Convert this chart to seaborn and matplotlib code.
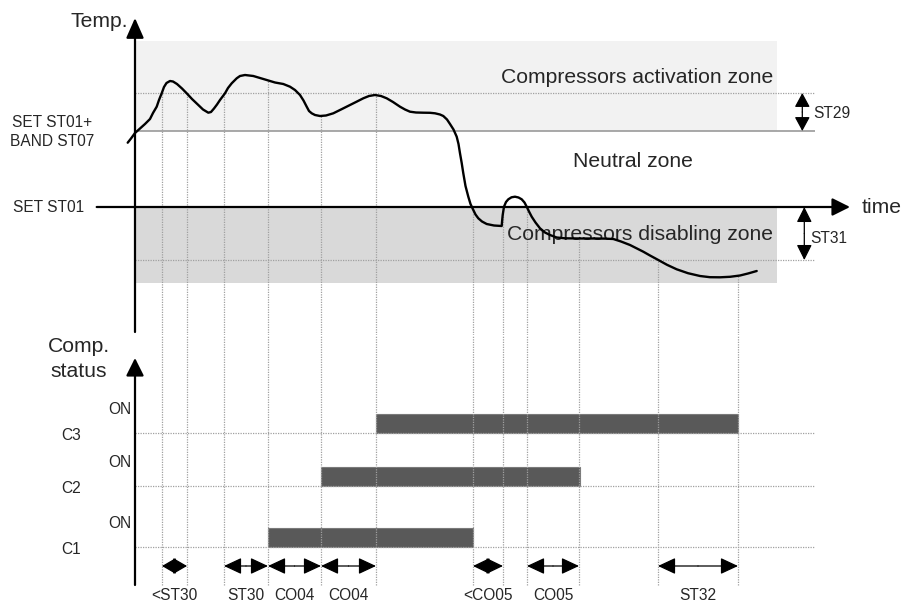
import numpy as np
import pandas as pd
import matplotlib
matplotlib.use("Agg")
import matplotlib.pyplot as plt
import seaborn as sns

# ---- temperature trace (time ticks, temperature relative to SET ST01) ----
temp_time = [-7.3, -4, 0, 5, 10, 15, 18, 21.7, 24, 26.7,
             29, 31.5, 35, 38, 42, 47, 51.7, 57, 63.3, 68,
             73.3, 76, 79, 82, 85, 90, 93, 96.7, 101.7, 105,
             110, 118.3, 125, 131.7, 140, 148.3, 155, 160, 165, 168.5,
             171.7, 174, 176.7, 180, 185, 191, 198.3, 207, 215, 222,
             228.3, 234, 240, 246, 251.7, 258, 265, 270, 275, 281,
             288.3, 295, 300, 305, 308.3, 312, 315, 318.5, 321.7, 323.5,
             325, 326.7, 328.3, 330.5, 333.3, 335.5, 338.3, 340.5, 343.3, 347,
             351.7, 359, 366.7, 367.2, 367.7, 369, 371, 373.3, 376.5, 380,
             383.5, 386.7, 389.5, 391.7, 394, 396.7, 400.5, 405, 410, 415,
             421.7, 430, 445, 460, 470, 478.3, 486, 495, 508.3, 515,
             523.3, 532, 541.7, 553, 565, 575, 585, 595, 605, 613,
             621.7]
temp_value = [64.3, 68.5, 74, 78.5, 83, 88, 94, 100.3, 107, 113.7,
              120, 124, 126, 125.5, 123, 118.5, 113.7, 108, 102, 97.5,
              94.3, 95, 98.5, 102.5, 107, 113.7, 119, 123.7, 128.7, 131,
              132, 131, 129, 127, 124.5, 123, 120.3, 117, 112, 106.5,
              100.3, 96, 93.7, 92, 91, 91.5, 93.7, 98, 102, 105.5,
              108.7, 111, 112, 111, 108.7, 105, 100.3, 97.5, 95.3, 94.5,
              94.3, 94.2, 93.7, 92.5, 91, 87.5, 83, 77.5, 70.3, 63,
              53.7, 44, 33.7, 21, 10.3, 3, -3, -7.5, -11.3, -14.5,
              -17, -18.5, -19, -13, -8, 0.3, 5, 7.7, 9.7, 10.3,
              9.5, 7.7, 4.5, 0.3, -4.5, -9.7, -15.5, -21.3, -25.5, -28,
              -30.5, -31.3, -31.5, -31.5, -31.6, -32, -34.5, -38, -44.7, -48.5,
              -53, -57.8, -62.3, -66.2, -69, -70.2, -70.3, -69.8, -68.5, -66.5,
              -64]

# thresholds
set_st01 = 0.0
band_st07 = 76.0
st29 = 38.0
st31 = 53.0

# ---- compressor status ----
compressors = ["C1", "C2", "C3"]
row_level = [59, 120, 173]
on_start = [133, 186, 241]
on_end = [338, 444.5, 603]

# ---- timing events and the intervals between them ----
event_times = [27, 52, 89, 133, 186, 241, 338, 368, 392, 444, 523, 603]
interval_labels = ["<ST30", "ST30", "CO04", "CO04", "<CO05", "CO05", "ST32"]
interval_start = [27, 89, 133, 186, 338, 392, 523]
interval_end = [52, 133, 186, 241, 368, 444, 603]

sns.set_style("white")
plt.rcParams["font.family"] = ["Liberation Sans", "DejaVu Sans"]

fig = plt.figure(figsize=(9.05, 6.06), dpi=100)
ax_t = fig.add_axes([0, 271 / 606, 1, 335 / 606])
ax_s = fig.add_axes([0, 0, 1, 271 / 606])
for ax in (ax_t, ax_s):
    ax.set_xlim(-135, 770)
    ax.axis("off")
ax_t.set_ylim(-128, 207)
ax_s.set_ylim(0, 271)

BIG = 15.2
SMALL = 11.2
dot = dict(color="#a0a0a0", lw=0.9, ls=(0, (1, 1)))
PT = 0.72  # points per pixel at 100 dpi


def arrow(ax, tip, tail, hl=15, hw=7.5, lw=1.6, color="black"):
    """Filled arrowhead at `tip`; hl/hw are head length and half-width in pixels."""
    ax.annotate("", xy=tip, xytext=tail,
                arrowprops=dict(arrowstyle=f"-|>,head_length={hl * PT},head_width={hw * PT}",
                                mutation_scale=1, lw=lw, color=color,
                                shrinkA=0, shrinkB=0), annotation_clip=False)


def dim_arrow(ax, a, b, hl=15, hw=7.0):
    """Double-headed dimension arrow between points a and b."""
    a = np.asarray(a, float)
    b = np.asarray(b, float)
    length = np.hypot(*(b - a))
    mid = (a + b) / 2
    head = min(hl, length / 2 - 0.5)
    arrow(ax, tuple(a), tuple(mid), head, hw, lw=0.9)
    arrow(ax, tuple(b), tuple(mid), head, hw, lw=0.9)


# ---- temperature panel ----
zone_right = 642
ax_t.fill_between([0, zone_right], band_st07, 166, color="#f2f2f2", lw=0, zorder=0)
ax_t.fill_between([0, zone_right], -76, set_st01, color="#d9d9d9", lw=0, zorder=0)

ax_t.hlines(band_st07 + st29, 0, 680, zorder=1, **dot)
ax_t.hlines(set_st01 - st31, 0, 680, zorder=1, **dot)
ax_t.hlines(band_st07, 0, 680, color="#9a9a9a", lw=1.2, zorder=1)

event_temp = np.interp(event_times, temp_time, temp_value)
ax_t.vlines(event_times, -128, event_temp, zorder=1, **dot)

# axes with arrowheads
arrow(ax_t, (0, 189), (0, -125), hl=17, hw=7.5)
arrow(ax_t, (715, set_st01), (-38.3, set_st01))

sns.lineplot(x=temp_time, y=temp_value, sort=False, ax=ax_t, color="black",
             lw=1.7, zorder=5, legend=False, solid_joinstyle="round",
             solid_capstyle="round")

# threshold dimension arrows
dim_arrow(ax_t, (667.3, band_st07 + st29), (667.3, band_st07), hl=12, hw=6.5)
dim_arrow(ax_t, (669.3, set_st01), (669.3, set_st01 - st31), hl=13, hw=6.5)

ax_t.text(-7, 180.3, "Temp.", ha="right", va="baseline", fontsize=BIG)
ax_t.text(726.7, -6, "time", ha="left", va="baseline", fontsize=BIG)
ax_t.text(638, 124, "Compressors activation zone", ha="right", va="baseline",
          fontsize=BIG, zorder=3)
ax_t.text(498, 40, "Neutral zone", ha="center", va="baseline", fontsize=BIG)
ax_t.text(638, -33, "Compressors disabling zone", ha="right", va="baseline",
          fontsize=BIG, zorder=3)
ax_t.text(678.3, 89, "ST29", ha="left", va="baseline", fontsize=SMALL)
ax_t.text(675, -36, "ST31", ha="left", va="baseline", fontsize=SMALL)
ax_t.text(-82.5, 80, "SET ST01+", ha="center", va="baseline", fontsize=SMALL)
ax_t.text(-82.5, 61.3, "BAND ST07", ha="center", va="baseline", fontsize=SMALL)
ax_t.text(-122.3, -4.7, "SET ST01", ha="left", va="baseline", fontsize=SMALL)

# ---- compressor status panel ----
ax_s.vlines(event_times, 21, 271, zorder=3, **dot)
ax_s.hlines(row_level, 0, 679, zorder=3, **dot)
widths = [e - s for s, e in zip(on_start, on_end)]
ax_s.barh([r + 9.5 for r in row_level], widths, left=on_start, height=19,
          color="#595959", edgecolor="#7a7a7a", lw=0.8, zorder=2)

arrow(ax_s, (0, 248), (0, 21))

for name, lvl in zip(compressors, row_level):
    ax_s.text(-3.3, lvl + 19, "ON", ha="right", va="baseline", fontsize=SMALL)
    ax_s.text(-64, lvl - 7, name, ha="center", va="baseline", fontsize=SMALL)

ax_s.text(-56.5, 254.3, "Comp.", ha="center", va="baseline", fontsize=BIG)
ax_s.text(-56.5, 229.3, "status", ha="center", va="baseline", fontsize=BIG)

arrow_row = 40
for lab, s, e in zip(interval_labels, interval_start, interval_end):
    dim_arrow(ax_s, (s, arrow_row), (e, arrow_row), hl=15, hw=7.0)
    ax_s.text((s + e) / 2, 6, lab, ha="center", va="baseline", fontsize=SMALL)

fig.savefig("out.png", dpi=100)
